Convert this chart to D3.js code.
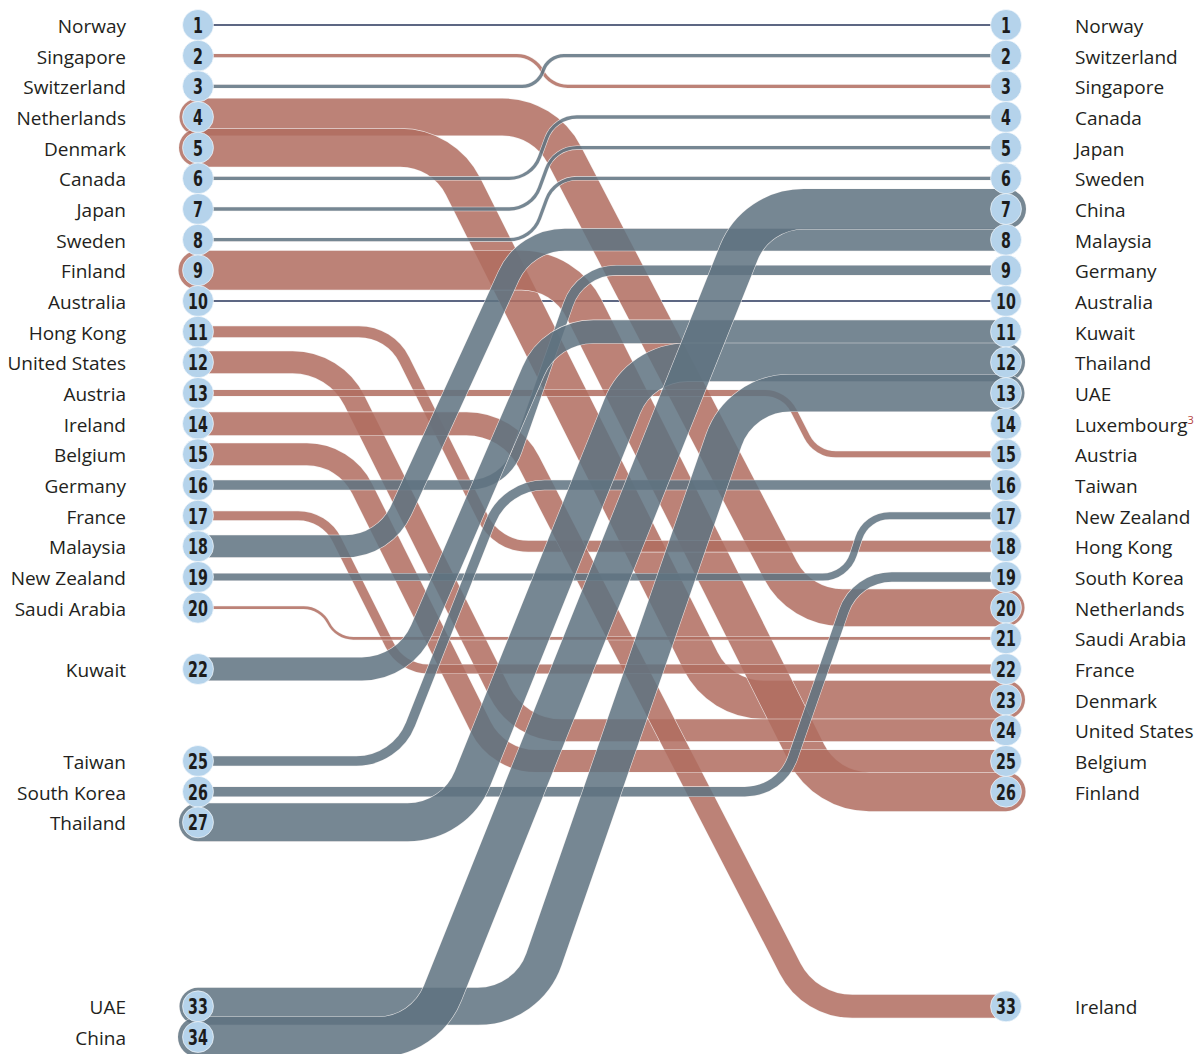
<!DOCTYPE html>
<html>
<head>
<meta charset="utf-8">
<script src="https://cdn.jsdelivr.net/npm/d3@7/dist/d3.min.js"></script>
<style>
  html, body { margin: 0; padding: 0; background: #ffffff; }
  svg { display: block; }
</style>
</head>
<body>
<svg id="chart" width="1202" height="1054"></svg>
<script>
// ---------------- data ----------------
const countries = ["Norway","Singapore","Switzerland","Netherlands","Denmark","Canada","Japan","Sweden","Finland","Australia",
  "Hong Kong","United States","Austria","Ireland","Belgium","Germany","France","Malaysia","New Zealand","Saudi Arabia",
  "Kuwait","Taiwan","South Korea","Thailand","UAE","China","Luxembourg"];
const rankBefore = [1,2,3,4,5,6,7,8,9,10,11,12,13,14,15,16,17,18,19,20,22,25,26,27,33,34,null];
const rankAfter  = [1,3,2,20,23,4,5,6,26,10,18,24,15,33,25,9,22,8,17,21,11,16,19,12,13,7,14];
// magnitude carried by each band (drawn as band thickness)
const weight     = [1.5,3.3,3.3,37,38,3.3,3.3,3.3,39,1.5,11,22,6,23,22,9.5,9,22,7,2.6,23,9.5,9.5,38,37,40,0];
// where (0 = first column, 1 = second column) each band leaves its old rank and reaches its new one
const crossFrom  = [0,0.416,0.421,0.429,0.304,0.413,0.413,0.413,0.454,0,0.238,0.170,0.726,0.385,0.182,0.380,0.157,0.231,0.802,0.152,0.256,0.245,0.7215,0.318,0.408,0.281,0];
const crossTo    = [1,0.436,0.433,0.745,0.646,0.441,0.441,0.441,0.777,1,0.370,0.397,0.765,0.757,0.371,0.473,0.252,0.405,0.827,0.171,0.436,0.380,0.814,0.547,0.671,0.691,1];
const footnote   = {"Luxembourg": "3"};

// ---------------- scales ----------------
const svg = d3.select("#chart");
const y = d3.scaleLinear().domain([1, 34]).range([25, 1037]);
const x = d3.scaleLinear().domain([0, 1]).range([198, 1006]);
const w = d3.scaleLinear().domain([0, 40]).range([0, 40]);

const RED = "#b16d60", GREY = "#5f7381", NAVY = "#27345a";

const rows = countries.map((c, i) => ({
  name: c, before: rankBefore[i], after: rankAfter[i], weight: weight[i],
  from: crossFrom[i], to: crossTo[i]
}));

function bandPath(d) {
  const x0 = x(0), x1 = x(1), y0 = y(d.before), y1 = y(d.after);
  if (d.before === d.after) return `M${x0},${y0}L${x1},${y1}`;
  const a = x(d.from), b = x(d.to);
  const dx = b - a, dy = y1 - y0;
  const L = Math.hypot(dx, dy);
  const ux = dx / L, uy = dy / L;
  const phi = Math.atan2(Math.abs(dy), dx);
  const tanHalf = Math.tan(phi / 2);
  const R = Math.max(30, Math.min(70, 25 + 0.12 * Math.abs(dy)));
  let t = Math.min(R * tanHalf, L / 2, a - x0, x1 - b);
  const Rr = t / tanHalf;
  const s1 = dy > 0 ? 1 : 0, s2 = dy > 0 ? 0 : 1;
  return `M${x0},${y0}L${a - t},${y0}` +
    `A${Rr},${Rr} 0 0 ${s1} ${a + ux * t},${y0 + uy * t}` +
    `L${b - ux * t},${y1 - uy * t}` +
    `A${Rr},${Rr} 0 0 ${s2} ${b + t},${y1}` +
    `L${x1},${y1}`;
}

const bands = rows.filter(d => d.before != null && d.weight > 0);

// flat (unchanged) lines
svg.append("g").selectAll("path")
  .data(bands.filter(d => d.before === d.after))
  .join("path")
  .attr("d", bandPath)
  .attr("fill", "none")
  .attr("stroke", NAVY)
  .attr("stroke-width", d => w(d.weight));

// moving bands
const bg = svg.append("g");
bands.filter(d => d.before !== d.after).forEach(d => {
  const g = bg.append("g").attr("opacity", 0.85);
  g.append("path")
    .attr("d", bandPath(d))
    .attr("fill", "none")
    .attr("stroke", "#f4f1f0")
    .attr("stroke-linecap", "round")
    .attr("stroke-width", w(d.weight) + 1.2);
  g.append("path")
    .attr("d", bandPath(d))
    .attr("fill", "none")
    .attr("stroke", d.after > d.before ? RED : GREY)
    .attr("stroke-linecap", "round")
    .attr("stroke-width", w(d.weight));
});

// rank circles
const circleData = [];
rows.forEach(d => {
  if (d.before != null) circleData.push({ side: 0, rank: d.before, name: d.name });
  if (d.after != null) circleData.push({ side: 1, rank: d.after, name: d.name });
});

const cg = svg.append("g");
cg.selectAll("circle").data(circleData).join("circle")
  .attr("cx", d => x(d.side))
  .attr("cy", d => y(d.rank))
  .attr("r", 15.5)
  .attr("fill", "#b5d3eb")
  .attr("stroke", "#ffffff")
  .attr("stroke-width", 0.6);

cg.selectAll("text").data(circleData).join("text")
  .attr("transform", d => `translate(${x(d.side)},${y(d.rank) + 8}) scale(0.72,1)`)
  .attr("text-anchor", "middle")
  .attr("font-family", "'DejaVu Sans Condensed', 'DejaVu Sans', sans-serif")
  .attr("font-weight", "bold")
  .attr("font-size", 22)
  .attr("fill", "#1c1c1c")
  .text(d => d.rank);

// country labels
const lg = svg.append("g")
  .attr("font-family", "'Open Sans', 'Noto Sans', sans-serif")
  .attr("font-size", 19)
  .attr("fill", "#231f20");

lg.selectAll("text.left").data(rows.filter(d => d.before != null)).join("text")
  .attr("class", "left")
  .attr("x", x(0) - 72)
  .attr("y", d => y(d.before) + 8)
  .attr("text-anchor", "end")
  .text(d => d.name);

const rl = lg.selectAll("text.right").data(rows.filter(d => d.after != null)).join("text")
  .attr("class", "right")
  .attr("x", x(1) + 69)
  .attr("y", d => y(d.after) + 8)
  .attr("text-anchor", "start");
rl.append("tspan").text(d => d.name);
rl.filter(d => footnote[d.name]).append("tspan")
  .attr("font-size", 11)
  .attr("dy", -8)
  .attr("fill", "#b5403a")
  .text(d => footnote[d.name]);
</script>
</body>
</html>
